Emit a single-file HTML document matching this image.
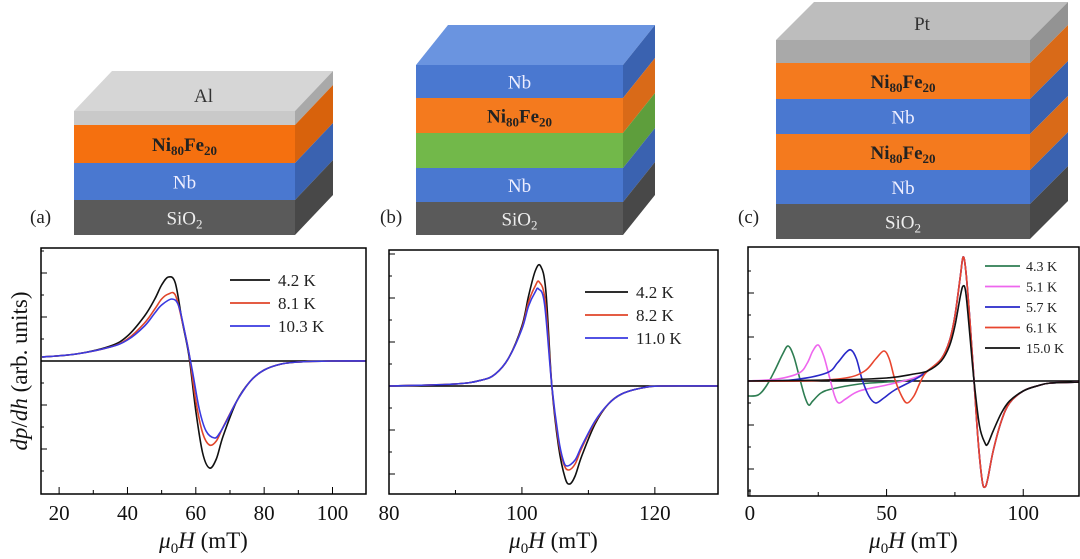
<!DOCTYPE html>
<html><head><meta charset="utf-8"><style>
html,body{margin:0;padding:0;background:#fff;}
svg{display:block;font-family:"Liberation Serif",serif;}
</style></head><body>
<svg id="fig" width="1080" height="559" viewBox="0 0 1080 559"></svg>
<script>
// ---- data: panel (a) ----
const aBlack=[[15,4],[25,7],[35,15],[40,25],[45,45],[48,62],[50,76],[52,84],[54,78],[56,40],[58,5],[60,-50],[62,-92],[64,-107],[66,-98],[68,-75],[72,-40],[76,-20],[80,-9],[85,-3],[90,-1],[100,0],[110,0]];
const aRed=[[15,4],[25,7],[35,14],[40,22],[45,38],[48,52],[50,62],[52,67],[54,66],[56,40],[58,8],[60,-40],[62,-72],[64,-84],[66,-80],[68,-66],[72,-40],[76,-20],[80,-9],[85,-3],[90,-1],[100,0],[110,0]];
const aBlue=[[15,4],[25,7],[35,14],[40,21],[45,35],[48,48],[50,56],[53,62],[55,55],[57,25],[59,-10],[61,-48],[63,-70],[65.5,-77],[67,-72],[69,-60],[72,-40],[76,-20],[80,-9],[85,-3],[90,-1],[100,0],[110,0]];
const aLabels=["4.2 K","8.1 K","10.3 K"];
const aTicks=[20,40,60,80,100];
// ---- data: panel (b) ----
const bBlack=[[80,0],[90,2],[94,6],[96,12],[98,28],[100,60],[101,90],[102,115],[102.8,120],[103.6,95],[104.5,0],[105.5,-60],[106.5,-92],[107.2,-98],[108,-90],[109,-70],[111,-38],[113,-18],[115,-8],[118,-2],[121,0],[130,0]];
const bRed=[[80,0],[90,2],[94,6],[96,12],[98,28],[100,58],[101,84],[102,100],[102.6,104],[103.5,85],[104.5,0],[105.5,-55],[106.3,-78],[107,-84],[108,-78],[109,-62],[111,-36],[113,-18],[115,-8],[118,-2],[121,0],[130,0]];
const bBlue=[[80,0],[90,2],[94,6],[96,12],[98,28],[100,57],[101,80],[102,94],[102.5,97],[103.4,82],[104.5,0],[105.5,-52],[106.2,-74],[106.8,-80],[108,-74],[109,-60],[111,-35],[113,-18],[115,-8],[118,-2],[121,0],[130,0]];
const bLabels=["4.2 K","8.2 K","11.0 K"];
const bTicks=[80,100,120];
// ---- data: panel (c) ----
const cMain=[[65,10],[70,22],[73,40],[75,65],[77,105],[78,124],[79,110],[80.5,60],[82,0],[83.5,-60],[85,-100],[86,-106],[87,-98],[89,-70],[92,-40],[95,-22],[100,-10],[105,-5],[110,-2],[121,-1]];
const cGreen=[[-1,-15],[3,-14],[6,-5],[9,10],[12,27],[14,35],[16,25],[18,5],[20,-15],[21.5,-24],[23,-20],[26,-12],[30,-8],[40,-3],[50,-1],[60,2]];
const cPink=[[-1,0],[10,2],[18,8],[21,18],[23,30],[25,36],[27,25],[29,5],[31,-15],[32.5,-22],[35,-18],[40,-10],[50,-4],[60,3]];
const cBlue=[[-1,0],[15,1],[28,8],[32,18],[35,28],[37,31],[39,22],[41,2],[43.5,-15],[46,-22],[49,-17],[53,-9],[60,1]];
const cOrange=[[-1,0],[20,0],[35,3],[42,10],[46,22],[49,30],[51,22],[53,2],[55.5,-15],[57.5,-22],[60,-15],[62,-3],[63.5,5]];
const cBlack=[[-1,0],[30,1],[50,3],[60,7],[65,10],[70,20],[73,35],[75,55],[77,85],[78,95],[79,88],[80.5,45],[82,0],[84,-45],[86,-62],[87,-63],[89,-50],[92,-32],[95,-20],[100,-10],[105,-5],[110,-2],[121,-1]];
const cLabels=["4.3 K","5.1 K","5.7 K","6.1 K","15.0 K"];
const cTicks=[0,50,100];

const NS="http://www.w3.org/2000/svg";
const svg=document.getElementById('fig');
function mk(tag,attrs,parent){const e=document.createElementNS(NS,tag);for(const k in attrs)e.setAttribute(k,attrs[k]);(parent||svg).appendChild(e);return e;}

// ---- layer stacks ----
function stack(name,x0,yF,w,dx,dy,topCol,layers,topLabel,topLabelY){
  const g=mk('g',{});
  
  
  const top=mk('polygon',{points:`${x0},${yF} ${x0+dx},${yF-dy} ${x0+w+dx},${yF-dy} ${x0+w},${yF}`,fill:topCol},g);
  
  
  let y=yF;
  layers.forEach(L=>{
    const r=mk('rect',{x:x0,y:y,width:w,height:L.h,fill:L.c},g);
    
    
    mk('polygon',{points:`${x0+w},${y} ${x0+w+dx},${y-dy} ${x0+w+dx},${y+L.h-dy} ${x0+w},${y+L.h}`,fill:L.s},g);
    if(L.t){const t=mk('text',{x:x0+w/2,y:y+L.h/2+7,'text-anchor':'middle','font-size':19,fill:L.tc,'font-weight':L.b?'bold':'normal'},g);t.innerHTML=L.t;}
    y+=L.h;
  });
  if(topLabel){const t=mk('text',{x:x0+w/2+dx/2,y:topLabelY,'text-anchor':'middle','font-size':19,fill:'#333'},g);t.textContent=topLabel;}
}
const NIFE='Ni<tspan font-size="13" dy="4">80</tspan><tspan dy="-4">Fe</tspan><tspan font-size="13" dy="4">20</tspan>';
const SIO='SiO<tspan font-size="13" dy="4">2</tspan>';
const OR='#f47a1e',ORs='#d96a18',BL='#4a78d0',BLs='#3a62b0',GR='#5a5a5a',GRs='#484848';
stack('stack-a',74,111,221,38,40,'#d6d6d6',[
 {n:'al',h:14,c:'#c9c9c9',s:'#a9a9a9'},
 {n:'nife',h:38,c:'#f5700f',s:'#d8620c',t:NIFE,tc:'#222',b:1},
 {n:'nb',h:37,c:BL,s:BLs,t:'Nb',tc:'#eef'},
 {n:'sio2',h:35,c:GR,s:GRs,t:SIO,tc:'#eee'}],'Al',102);
stack('stack-b',416,65,207,32,40,'#6a94e0',[
 {n:'nb-top',h:33,c:BL,s:BLs,t:'Nb',tc:'#eef'},
 {n:'nife',h:35,c:OR,s:ORs,t:NIFE,tc:'#222',b:1},
 {n:'green',h:35,c:'#72b84a',s:'#5e9e3c'},
 {n:'nb',h:34,c:BL,s:BLs,t:'Nb',tc:'#eef'},
 {n:'sio2',h:33,c:GR,s:GRs,t:SIO,tc:'#eee'}],null,0);
stack('stack-c',776,40,254,38,38,'#bdbdbd',[
 {n:'pt',h:23,c:'#a9a9a9',s:'#939393'},
 {n:'nife-1',h:36,c:OR,s:ORs,t:NIFE,tc:'#222',b:1},
 {n:'nb-1',h:35,c:BL,s:BLs,t:'Nb',tc:'#eef'},
 {n:'nife-2',h:36,c:OR,s:ORs,t:NIFE,tc:'#222',b:1},
 {n:'nb-2',h:34,c:BL,s:BLs,t:'Nb',tc:'#eef'},
 {n:'sio2',h:35,c:GR,s:GRs,t:SIO,tc:'#eee'}],'Pt',30);
[['(a)',30],['(b)',380],['(c)',738]].forEach(([s,x],i)=>{
  const t=mk('text',{x:x,y:223,'font-size':19,fill:'#222'});
  
  
  t.textContent=s;});

// ---- charts ----
function smooth(pts){
  let d=`M${pts[0][0]},${pts[0][1]}`;
  for(let i=0;i<pts.length-1;i++){
    const p0=pts[Math.max(0,i-1)],p1=pts[i],p2=pts[i+1],p3=pts[Math.min(pts.length-1,i+2)];
    d+=` C${p1[0]+(p2[0]-p0[0])/6},${p1[1]+(p2[1]-p0[1])/6} ${p2[0]-(p3[0]-p1[0])/6},${p2[1]-(p3[1]-p1[1])/6} ${p2[0]},${p2[1]}`;
  }
  return d;
}
function panel(id,L,R,T,B,xmin,xmax,zeroY,ticks,minorStep,series,colors,labels,leg){
  const g=mk('g',{});
  
  
  const xs=v=>L+(v-xmin)/(xmax-xmin)*(R-L);
  const ys=v=>zeroY-v;
  const cp=mk('clipPath',{id:'clip'+id},g);
  mk('rect',{x:L,y:T,width:R-L,height:B-T},cp);
  // y ticks
  for(let v=-132;v<=132;v+=22){const y=ys(v);if(y<T+3||y>B-3||v===0)continue;
    mk('line',{x1:L,x2:L+((v/22)%2===0?6:3),y1:y,y2:y,stroke:'#000','stroke-width':1},g);}
  // x ticks
  for(let v=Math.ceil(xmin/minorStep)*minorStep;v<=xmax;v+=minorStep){
    const major=ticks.includes(v);
    mk('line',{x1:xs(v),x2:xs(v),y1:B,y2:B-(major?7:4),stroke:'#000','stroke-width':1},g);}
  ticks.forEach(v=>{const t=mk('text',{x:xs(v),y:520,'text-anchor':'middle','font-size':21,fill:'#111'},g);
    
    
    t.textContent=v;});
  mk('line',{x1:L,x2:R,y1:zeroY,y2:zeroY,stroke:'#000','stroke-width':1.5},g);
  series.forEach((s,i)=>{
    const p=mk('path',{d:smooth(s.map(q=>[xs(q[0]),ys(q[1])])),fill:'none',stroke:colors[i],'stroke-width':1.6,'clip-path':`url(#clip${id})`},g);
    
    
  });
  labels.forEach((lab,i)=>{
    const y=leg.y+i*leg.dy;
    const e=mk('g',{},g);
    
    
    mk('line',{x1:leg.x1,x2:leg.x2,y1:y,y2:y,stroke:colors[i],'stroke-width':1.8},e);
    const t=mk('text',{x:leg.tx,y:y+leg.fs*0.35,'font-size':leg.fs,fill:'#222'},e);t.textContent=lab;
  });
  mk('rect',{x:L,y:T,width:R-L,height:B-T,fill:'none',stroke:'#000','stroke-width':1.5},g);
  const xl=mk('text',{x:(L+R)/2,y:548,'text-anchor':'middle','font-size':23,fill:'#111'},g);
  
  
  xl.innerHTML='<tspan font-style="italic">μ</tspan><tspan font-size="15" dy="5">0</tspan><tspan dy="-5" font-style="italic">H</tspan> (mT)';
}
panel('a',41,366,248,494,14.7,109.8,361,aTicks,10,[aBlack,aRed,aBlue],['#111','#e0452a','#3a3ae0'],aLabels,{x1:230,x2:270,tx:278,y:280,dy:23,fs:17});
panel('b',389,718,250,494,80,129.5,386,bTicks,10,[bBlack,bRed,bBlue],['#111','#e0452a','#3a3ae0'],bLabels,{x1:585,x2:628,tx:636,y:292,dy:23,fs:17});
panel('c',748,1079,247,496,-0.7,120.4,381,cTicks,25,[cGreen.concat(cMain),cPink.concat(cMain),cBlue.concat(cMain),cOrange.concat(cMain),cBlack],['#2e7d52','#ee66ee','#2828c8','#e8452e','#111'],cLabels,{x1:985,x2:1020,tx:1026,y:266,dy:20.5,fs:14});
const yl=mk('text',{x:0,y:0,'text-anchor':'middle','font-size':23,fill:'#111',transform:'translate(27,371) rotate(-90)'});


yl.innerHTML='<tspan font-style="italic">dp</tspan>/<tspan font-style="italic">dh</tspan> (arb. units)';
</script>
</body></html>
